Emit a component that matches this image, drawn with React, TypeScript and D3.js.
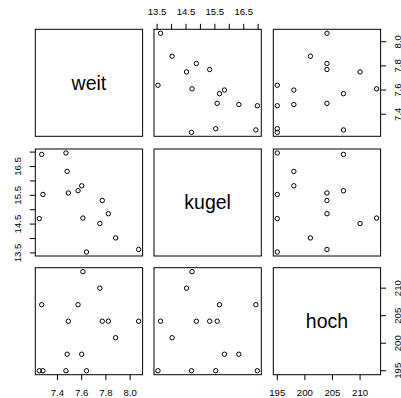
import React from "react";
import * as d3 from "d3";

const varNames = ["weit", "kugel", "hoch"];
const weit = [8.07, 7.88, 7.82, 7.77, 7.75, 7.64, 7.6, 7.61, 7.57, 7.47, 7.48, 7.49, 7.28, 7.25, 7.27];
const kugel = [13.62, 14.02, 14.86, 15.32, 14.52, 13.53, 15.83, 14.71, 15.66, 16.97, 16.33, 15.58, 15.53, 14.69, 16.92];
const hoch = [204, 201, 204, 204, 210, 195, 198, 213, 207, 195, 198, 204, 195, 195, 207];

const weitTicks = [7.4, 7.6, 7.8, 8.0];
const weitLabels = ["7.4", "7.6", "7.8", "8.0"];
const kugelTicks = [13.5, 14, 14.5, 15, 15.5, 16, 16.5, 17];
const kugelLabels = ["13.5", "", "14.5", "", "15.5", "", "16.5", ""];
const hochTicks = [195, 200, 205, 210];
const hochLabels = ["195", "200", "205", "210"];

const series = [weit, kugel, hoch];
const ticks = [weitTicks, kugelTicks, hochTicks];
const labels = [weitLabels, kugelLabels, hochLabels];

const W = 401;
const H = 398;
const xPos = [35.3, 154, 273.3];
const yPos = [29.3, 149, 267.7];
const PW = 107.3;
const PH = 107;
const TICK = 5.5;
const LAB = 17.5;
const FONT = "Liberation Sans, Arial, sans-serif";

function ext(v: number[]): [number, number] {
  const [mn, mx] = d3.extent(v) as [number, number];
  const r = mx - mn;
  return [mn - 0.04 * r, mx + 0.04 * r];
}

export default function App() {
  const xs = series.map((v, j) =>
    d3.scaleLinear().domain(ext(v)).range([xPos[j], xPos[j] + PW])
  );
  const ys = series.map((v, i) =>
    d3.scaleLinear().domain(ext(v)).range([yPos[i] + PH, yPos[i]])
  );
  const n = 3;
  const panels: React.ReactNode[] = [];
  for (let i = 0; i < n; i++) {
    for (let j = 0; j < n; j++) {
      const key = `p${i}${j}`;
      panels.push(
        <rect key={key + "b"} x={xPos[j]} y={yPos[i]} width={PW} height={PH}
          fill="none" stroke="#000" strokeWidth={1} />
      );
      if (i === j) {
        panels.push(
          <text key={key + "t"} x={xPos[j] + PW / 2} y={yPos[i] + PH / 2}
            dy="0.35em" textAnchor="middle" fontFamily={FONT} fontSize={19.5}>
            {varNames[i]}
          </text>
        );
      } else {
        const xv = series[j];
        const yv = series[i];
        xv.forEach((xval, k) => {
          panels.push(
            <circle key={key + "c" + k} cx={xs[j](xval)} cy={ys[i](yv[k])} r={2.2}
              fill="none" stroke="#000" strokeWidth={1} />
          );
        });
      }
    }
  }

  const axes: React.ReactNode[] = [];
  // top axis for col 1 (kugel), bottom axes for cols 0 and 2
  for (let j = 0; j < n; j++) {
    const top = j % 2 === 1;
    const yEdge = top ? yPos[0] : yPos[n - 1] + PH;
    const dir = top ? -1 : 1;
    ticks[j].forEach((t, k) => {
      const x = xs[j](t);
      axes.push(
        <line key={`hx${j}${k}`} x1={x} x2={x} y1={yEdge} y2={yEdge + dir * TICK}
          stroke="#000" strokeWidth={1} />
      );
      if (labels[j][k])
        axes.push(
          <text key={`hl${j}${k}`} x={x} y={yEdge + dir * LAB} dy="0.35em"
            textAnchor="middle" fontFamily={FONT} fontSize={9.6}>
            {labels[j][k]}
          </text>
        );
    });
  }
  // left axis for row 1 (kugel), right axes for rows 0 and 2
  for (let i = 0; i < n; i++) {
    const left = i % 2 === 1;
    const xEdge = left ? xPos[0] : xPos[n - 1] + PW;
    const dir = left ? -1 : 1;
    ticks[i].forEach((t, k) => {
      const y = ys[i](t);
      axes.push(
        <line key={`vy${i}${k}`} x1={xEdge} x2={xEdge + dir * TICK} y1={y} y2={y}
          stroke="#000" strokeWidth={1} />
      );
      if (labels[i][k]) {
        const lx = xEdge + dir * LAB;
        axes.push(
          <text key={`vl${i}${k}`} x={lx} y={y} dy="0.35em" textAnchor="middle"
            transform={`rotate(-90 ${lx} ${y})`} fontFamily={FONT} fontSize={9.6}>
            {labels[i][k]}
          </text>
        );
      }
    });
  }

  return (
    <svg width={W} height={H} style={{ position: "absolute", left: 0, top: 0, background: "#fff" }}>
      <rect x={0} y={0} width={W} height={H} fill="#fff" />
      {panels}
      {axes}
    </svg>
  );
}
